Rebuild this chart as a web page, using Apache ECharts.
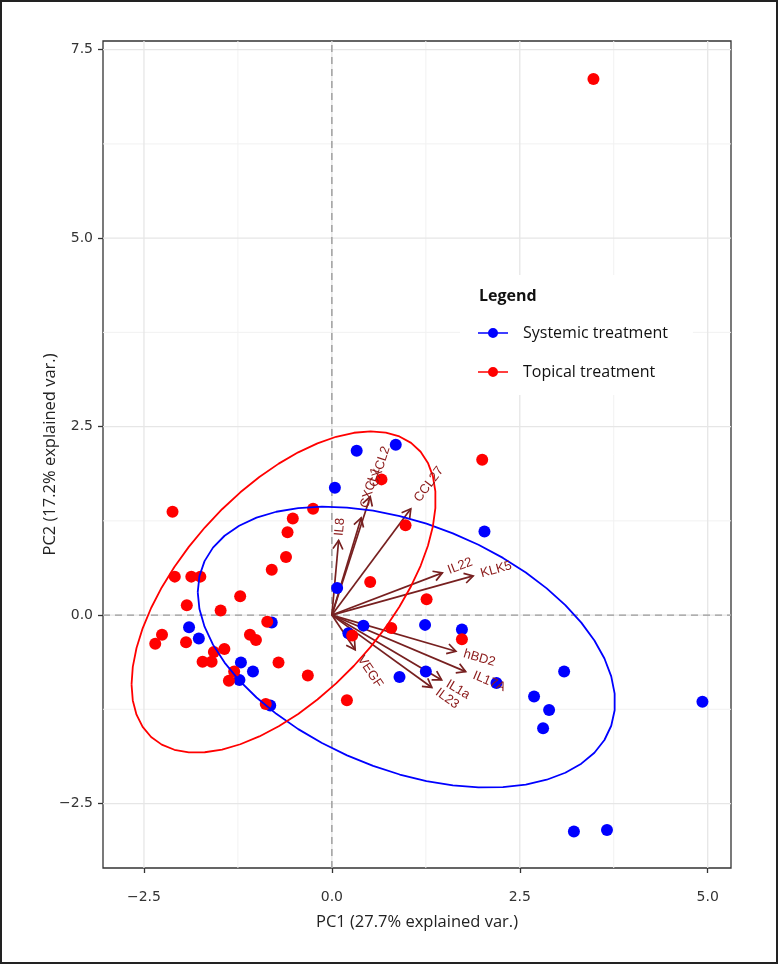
<!DOCTYPE html>
<html><head><meta charset="utf-8">
<script src="https://cdn.jsdelivr.net/npm/echarts@6/dist/echarts.min.js"></script>
<style>html,body{margin:0;padding:0;background:#fff}#c{width:778px;height:964px}</style>
</head><body><div id="c"></div>
<script>
// ---- data ----
const systemicX = [0.33, 0.85, 0.04, 2.03, 0.07, 0.42, 0.22, 1.24, 1.73, 1.25, 0.90, 2.19, 3.09, 2.69, 2.89, 2.81, 4.93, 3.22, 3.66, -1.90, -1.77, -1.21, -1.05, -1.23, -0.80, -0.82];
const systemicY = [2.18, 2.26, 1.69, 1.11, 0.36, -0.14, -0.24, -0.13, -0.19, -0.75, -0.82, -0.90, -0.75, -1.08, -1.26, -1.50, -1.15, -2.87, -2.85, -0.16, -0.31, -0.63, -0.75, -0.86, -0.10, -1.20];
const topicalX = [3.48, 2.00, 0.66, -0.25, -0.52, -2.12, 0.98, -0.59, -0.61, -0.80, -2.09, -1.87, -1.75, 0.51, -1.22, -1.93, -1.48, 1.26, -0.86, 0.27, 0.79, 1.73, 0.20, -2.26, -2.35, -1.94, -1.09, -1.01, -1.43, -1.57, -1.72, -1.60, -1.30, -1.37, -0.71, -0.32, -0.88];
const topicalY = [7.11, 2.06, 1.80, 1.41, 1.28, 1.37, 1.19, 1.10, 0.77, 0.60, 0.51, 0.51, 0.51, 0.44, 0.25, 0.13, 0.06, 0.21, -0.09, -0.27, -0.17, -0.32, -1.13, -0.26, -0.38, -0.36, -0.26, -0.33, -0.45, -0.49, -0.62, -0.62, -0.75, -0.87, -0.63, -0.80, -1.18];
const loadingNames = ['IL8', 'CXCL1', 'CXCL2', 'CCL27', 'IL22', 'KLK5', 'hBD2', 'IL17A', 'IL1a', 'IL23', 'VEGF'];
const loadingX = [0.09, 0.39, 0.51, 1.05, 1.47, 1.88, 1.65, 1.78, 1.46, 1.33, 0.31];
const loadingY = [0.99, 1.29, 1.57, 1.41, 0.56, 0.52, -0.48, -0.75, -0.86, -0.96, -0.46];
const seriesNames = ['Systemic treatment', 'Topical treatment'];
const xTicks = [-2.5, 0, 2.5, 5];
const yTicks = [-2.5, 0, 2.5, 5, 7.5];
const xMinor = [-1.25, 1.25, 3.75];
const yMinor = [-1.25, 1.25, 3.75, 6.25];
const xLim = [-3.045, 5.31];
const yLim = [-3.355, 7.615];
const ellipseProb = 0.68;

// ---- helpers ----
function ellipsePoints(xs, ys) {
  const n = xs.length;
  const mx = xs.reduce((a, b) => a + b, 0) / n;
  const my = ys.reduce((a, b) => a + b, 0) / n;
  let sxx = 0, syy = 0, sxy = 0;
  for (let i = 0; i < n; i++) {
    sxx += (xs[i] - mx) ** 2; syy += (ys[i] - my) ** 2; sxy += (xs[i] - mx) * (ys[i] - my);
  }
  sxx /= (n - 1); syy /= (n - 1); sxy /= (n - 1);
  const a = Math.sqrt(sxx), b = sxy / a, c = Math.sqrt(syy - b * b);
  const ed = Math.sqrt(-2 * Math.log(1 - ellipseProb));
  const pts = [];
  for (let i = 0; i < 50; i++) {
    const t = -Math.PI + 2 * Math.PI * i / 49;
    const ct = Math.cos(t), st = Math.sin(t);
    pts.push([mx + ed * a * ct, my + ed * (b * ct + c * st)]);
  }
  return pts;
}
const zip = (xs, ys) => xs.map((x, i) => [x, ys[i]]);
const fmt = v => (v < 0 ? '\u2212' : '') + Math.abs(v).toFixed(1);

const measureCtx = document.createElement('canvas').getContext('2d');
const labelFont = '13px "Liberation Sans", Arial, sans-serif';
measureCtx.font = labelFont;

const chart = echarts.init(document.getElementById('c'), null, { renderer: 'canvas' });

function vLines(values, color, width, dash) {
  return {
    type: 'custom', silent: true, z: 1, animation: false,
    data: values.map(v => [v, 0]),
    renderItem: (p, api) => {
      const v = api.value(0);
      const a = api.coord([v, yLim[0]]), b = api.coord([v, yLim[1]]);
      return { type: 'line', shape: { x1: a[0], y1: a[1], x2: b[0], y2: b[1] },
        style: { stroke: color, lineWidth: width, lineDash: dash || null } };
    }
  };
}
function hLines(values, color, width, dash) {
  return {
    type: 'custom', silent: true, z: 1, animation: false,
    data: values.map(v => [0, v]),
    renderItem: (p, api) => {
      const v = api.value(1);
      const a = api.coord([xLim[0], v]), b = api.coord([xLim[1], v]);
      return { type: 'line', shape: { x1: a[0], y1: a[1], x2: b[0], y2: b[1] },
        style: { stroke: color, lineWidth: width, lineDash: dash || null } };
    }
  };
}

const arrowColor = '#772020';
const labelColor = '#8b1a1a';
const loadData = loadingX.map((x, i) => [x, loadingY[i], i]);

const icon = 'path://M0,4.3H30V5.7H0Z M20,5A5,5 0 1,1 10,5A5,5 0 1,1 20,5Z';

const option = {
  animation: false,
  backgroundColor: '#fff',
  grid: { left: 103, top: 41, width: 628, height: 827, show: true, borderColor: '#333', borderWidth: 1.3, backgroundColor: '#fff' },
  xAxis: {
    type: 'value', min: xLim[0], max: xLim[1],
    axisLine: { show: false, onZero: false },
    splitLine: { show: false },
    axisTick: { show: true, customValues: xTicks, length: 5, lineStyle: { color: '#333', width: 1.3 } },
    axisLabel: { customValues: xTicks, formatter: fmt, fontFamily: 'DejaVu Sans', fontSize: 14, color: '#333', margin: 22 },
    name: 'PC1 (27.7% explained var.)', nameLocation: 'middle', nameGap: 46, nameMoveOverlap: false,
    nameTextStyle: { fontFamily: 'Open Sans', fontSize: 16.5, color: '#222' }
  },
  yAxis: {
    type: 'value', min: yLim[0], max: yLim[1],
    axisLine: { show: false, onZero: false },
    splitLine: { show: false },
    axisTick: { show: true, customValues: yTicks, length: 5, lineStyle: { color: '#333', width: 1.3 } },
    axisLabel: { customValues: yTicks, formatter: fmt, fontFamily: 'DejaVu Sans', fontSize: 14, color: '#333', margin: 10 },
    name: 'PC2 (17.2% explained var.)', nameLocation: 'middle', nameGap: 44, nameMoveOverlap: false,
    nameTextStyle: { fontFamily: 'Open Sans', fontSize: 16.5, color: '#222' }
  },
  legend: {
    orient: 'vertical', left: 460, top: 275,
    padding: [50, 25, 15, 18], backgroundColor: '#fff',
    itemWidth: 30, itemHeight: 10, itemGap: 23,
    textStyle: { fontFamily: 'Open Sans', fontSize: 16, color: '#111', padding: [0, 0, 0, 10] },
    data: seriesNames.map(n => ({ name: n, icon: icon }))
  },
  graphic: [
    { type: 'text', left: 479, top: 288, z: 100, style: { text: 'Legend', font: 'bold 16px "Open Sans"', fill: '#111' } },
    { type: 'rect', z: 100, silent: true, shape: { x: 1, y: 1, width: 776, height: 962 }, style: { fill: 'none', stroke: '#222', lineWidth: 2 } }
  ],
  series: [
    vLines(xMinor, '#f2f2f2', 1),
    hLines(yMinor, '#f2f2f2', 1),
    vLines(xTicks, '#e6e6e6', 1.3),
    hLines(yTicks, '#e6e6e6', 1.3),
    vLines([0], '#9a9a9a', 1.4, [7, 5]),
    hLines([0], '#9a9a9a', 1.4, [7, 5]),
    {
      type: 'custom', silent: true, z: 2, animation: false,
      data: loadData,
      renderItem: (p, api) => {
        const o = api.coord([0, 0]);
        const t = api.coord([api.value(0), api.value(1)]);
        const ang = Math.atan2(t[1] - o[1], t[0] - o[0]);
        const L = 10, w = Math.PI / 6;
        return {
          type: 'group', children: [
            { type: 'line', shape: { x1: o[0], y1: o[1], x2: t[0], y2: t[1] }, style: { stroke: arrowColor, lineWidth: 1.7 } },
            { type: 'polyline', shape: { points: [
              [t[0] - L * Math.cos(ang - w), t[1] - L * Math.sin(ang - w)], t,
              [t[0] - L * Math.cos(ang + w), t[1] - L * Math.sin(ang + w)]] },
              style: { stroke: arrowColor, lineWidth: 1.7, fill: null } }
          ]
        };
      }
    },
    { name: seriesNames[0], type: 'scatter', z: 3, symbolSize: 12, itemStyle: { color: '#0000ff', opacity: 1 }, data: zip(systemicX, systemicY) },
    { name: seriesNames[1], type: 'scatter', z: 3, symbolSize: 12, itemStyle: { color: '#ff0000', opacity: 1 }, data: zip(topicalX, topicalY) },
    { name: 'ell-s', type: 'line', z: 4, showSymbol: false, silent: true, lineStyle: { color: '#0000ff', width: 1.8 }, itemStyle: { color: '#0000ff' }, data: ellipsePoints(systemicX, systemicY) },
    { name: 'ell-t', type: 'line', z: 4, showSymbol: false, silent: true, lineStyle: { color: '#ff0000', width: 1.8 }, itemStyle: { color: '#ff0000' }, data: ellipsePoints(topicalX, topicalY) },
    {
      type: 'custom', silent: true, z: 5, animation: false,
      data: loadData,
      renderItem: (p, api) => {
        const i = api.value(2);
        const o = api.coord([0, 0]);
        const t = api.coord([api.value(0), api.value(1)]);
        const rot = -Math.atan2(t[1] - o[1], t[0] - o[0]);
        const txt = loadingNames[i];
        const wdt = measureCtx.measureText(txt).width;
        return {
          type: 'text', x: t[0], y: t[1], rotation: rot,
          style: { text: txt, x: 0.25 * wdt, y: 0, textAlign: 'left', textVerticalAlign: 'middle', font: labelFont, fill: labelColor }
        };
      }
    }
  ]
};
chart.setOption(option);
</script>
</body></html>
